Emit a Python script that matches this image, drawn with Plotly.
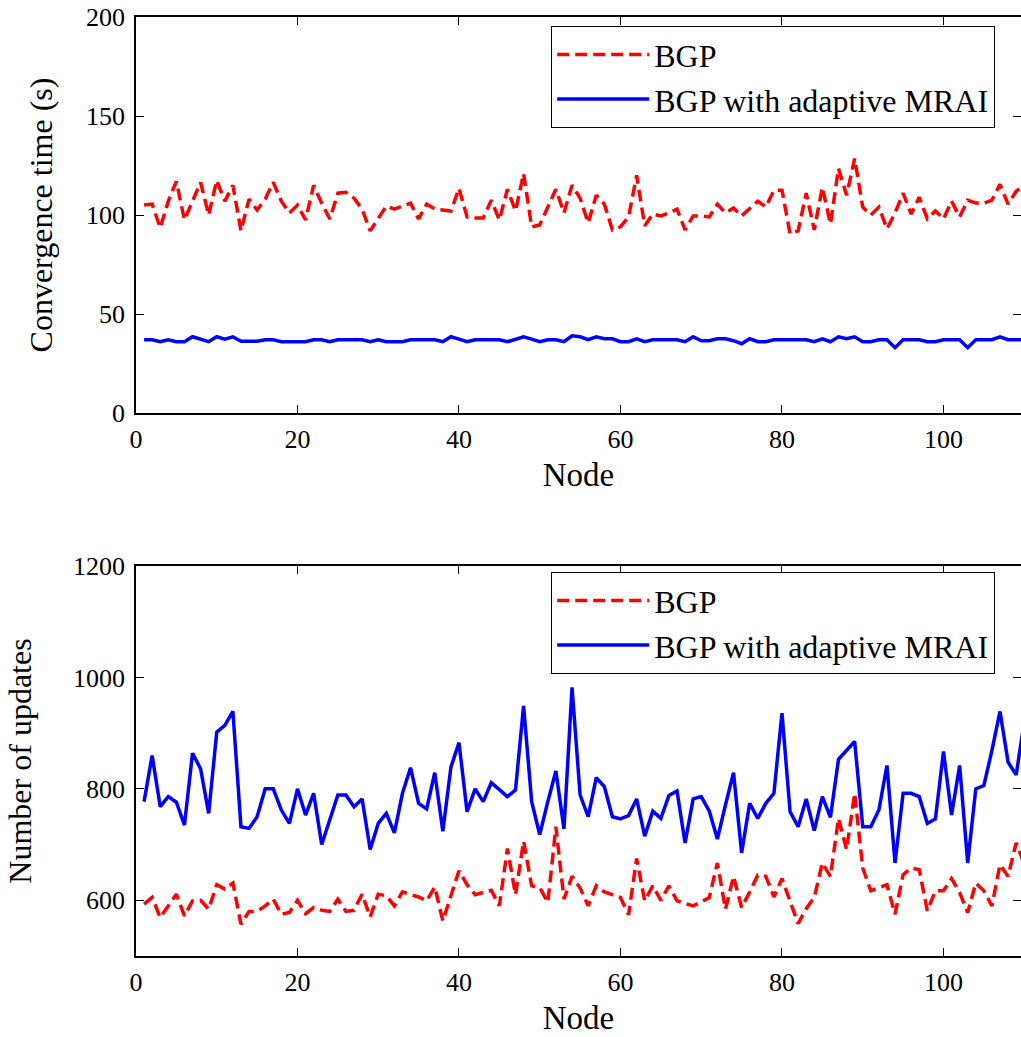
import plotly.graph_objects as go

nodes = list(range(1, 111))

conv_bgp = [105, 105.5, 93.5, 107, 117, 97.5, 107, 116.5, 100, 117.5,
            107, 115, 92, 108, 102.5, 108, 116.5, 107, 101, 105,
            97.5, 115, 106, 98, 111, 111.5, 108.5, 103, 92, 98,
            104.5, 103, 104.5, 106, 98, 105.5, 103, 102.5, 102, 113.5,
            99, 98.5, 98.5, 107.5, 97.5, 113, 102, 121, 94, 95,
            104, 113, 101, 115, 108.5, 96, 110, 105.5, 92.5, 94,
            99, 120, 94.5, 100.5, 99.5, 101, 103, 92.5, 99.5, 99.5,
            99, 105.5, 101, 103.5, 99.5, 103, 107, 104, 112.5, 112.5,
            90.5, 92, 111, 92.5, 114, 95.5, 123.5, 110, 128.5, 104,
            100, 104, 93, 101, 111, 100.5, 109, 98, 102, 98,
            107, 99, 107.5, 106, 106, 107.5, 115.5, 105.5, 112, 115]

conv_adaptive = [37, 37, 36, 37, 36, 36, 38.5, 37.3, 36, 38.5,
                 37.3, 38.5, 36.2, 36.2, 36.2, 37, 37, 36, 36, 36,
                 36, 37, 37, 36, 37, 37, 37, 37, 36, 37,
                 36, 36, 36, 37, 37, 37, 37, 36, 38.5, 37.3,
                 36, 37, 37, 37, 37, 36, 37.3, 38.5, 37.3, 36,
                 37, 37, 36, 39, 38.5, 37, 38.5, 37.5, 37.5, 36,
                 36, 37.5, 36, 37, 37, 37, 37, 36, 38.5, 36.5,
                 36.5, 37.5, 37.5, 36.5, 35, 37.5, 36, 36, 37, 37,
                 37, 37, 37, 36, 37.5, 36, 38.5, 37.5, 38.5, 36,
                 36, 37, 37, 33, 37, 37, 37, 36, 36, 37,
                 37, 37, 33, 37, 37, 37, 38.5, 37, 37, 37]

upd_bgp = [593, 605, 569, 590, 611, 572, 599, 600, 584, 628,
           620, 631, 557, 580, 580, 590, 602, 575, 578, 600,
           576, 587, 582, 580, 602, 580, 582, 611, 570, 611,
           608, 590, 615, 610, 606, 599, 624, 563, 610, 653,
           628, 610, 614, 618, 590, 693, 610, 706, 626, 623,
           596, 732, 602, 643, 622, 590, 626, 615, 610, 605,
           574, 675, 599, 626, 600, 626, 599, 595, 590, 597,
           605, 667, 584, 643, 587, 615, 645, 643, 606, 639,
           599, 558, 585, 605, 667, 643, 747, 691, 792, 658,
           617, 623, 628, 575, 646, 658, 655, 581, 617, 617,
           639, 614, 578, 631, 617, 590, 664, 643, 703, 665]

upd_adaptive = [777, 860, 768, 786, 776, 735, 864, 836, 756, 902,
                914, 939, 732, 729, 750, 800, 800, 762, 738, 800,
                753, 792, 700, 745, 789, 789, 768, 782, 691, 738,
                756, 721, 792, 838, 774, 764, 829, 724, 839, 883,
                759, 800, 777, 811, 798, 786, 798, 949, 777, 718,
                777, 832, 728, 982, 789, 750, 820, 804, 750, 746,
                752, 782, 715, 760, 747, 788, 796, 703, 782, 786,
                760, 710, 771, 829, 685, 774, 747, 774, 792, 936,
                759, 732, 782, 725, 786, 749, 853, 869, 885, 732,
                732, 762, 842, 667, 792, 792, 786, 738, 746, 867,
                753, 842, 667, 800, 806, 869, 939, 848, 825, 920]

x_ticks = [0, 20, 40, 60, 80, 100]
conv_ticks = [0, 50, 100, 150, 200]
upd_ticks = [600, 800, 1000, 1200]

FONT = "Liberation Serif, Times New Roman, serif"
RED = "#FF0000"
BLUE = "#0000FF"
TICK_SIZE = 26
TEXT_SIZE = 33

fig = go.Figure()

fig.add_trace(go.Scatter(x=nodes, y=conv_bgp, mode="lines", name="BGP",
                         line=dict(color=RED, width=3.5, dash="12px,6px"),
                         xaxis="x", yaxis="y", legend="legend"))
fig.add_trace(go.Scatter(x=nodes, y=conv_adaptive, mode="lines",
                         name="BGP with adaptive MRAI",
                         line=dict(color=BLUE, width=3.5),
                         xaxis="x", yaxis="y", legend="legend"))
fig.add_trace(go.Scatter(x=nodes, y=upd_bgp, mode="lines", name="BGP",
                         line=dict(color=RED, width=3.5, dash="12px,6px"),
                         xaxis="x2", yaxis="y2", legend="legend2"))
fig.add_trace(go.Scatter(x=nodes, y=upd_adaptive, mode="lines",
                         name="BGP with adaptive MRAI",
                         line=dict(color=BLUE, width=3.5),
                         xaxis="x2", yaxis="y2", legend="legend2"))

H = 1037
W = 1021
L, R = 136, 0
T, B = 17, 81
PH = H - T - B
PW = W - L - R


def py(pix):
    return (H - B - pix) / PH


def px(pix):
    return (pix - L) / PW


axis_common = dict(showline=True, linecolor="black", linewidth=1.5,
                   mirror="ticks", ticks="inside", ticklen=8, tickwidth=1.2,
                   tickcolor="black", showgrid=False, zeroline=False,
                   automargin=False,
                   tickfont=dict(family=FONT, size=TICK_SIZE, color="black"))

title_font = dict(family=FONT, size=TEXT_SIZE, color="black")
legend_common = dict(xanchor="left", yanchor="top",
                     bgcolor="white", bordercolor="black", borderwidth=1.2,
                     font=dict(family=FONT, size=32, color="black"),
                     itemwidth=92, tracegroupgap=0)

fig.update_layout(
    width=W, height=H,
    margin=dict(l=L, r=R, t=T, b=B, autoexpand=False),
    paper_bgcolor="white", plot_bgcolor="white",
    font=dict(family=FONT, size=TICK_SIZE, color="black"),
    xaxis=dict(axis_common, domain=[0, 1], range=[0, 109.6], anchor="y",
               tickvals=x_ticks, ticklabelstandoff=2,
               title=dict(text="Node", standoff=10, font=title_font)),
    yaxis=dict(axis_common, domain=[py(413), 1], range=[0, 200], anchor="x",
               tickvals=conv_ticks, ticklabelstandoff=4,
               title=dict(text="Convergence time (s)", standoff=24,
                          font=dict(family=FONT, size=32, color="black"))),
    xaxis2=dict(axis_common, domain=[0, 1], range=[0, 109.6], anchor="y2",
                tickvals=x_ticks, ticklabelstandoff=2,
                title=dict(text="Node", standoff=10, font=title_font)),
    yaxis2=dict(axis_common, domain=[0, py(566)], range=[500, 1200], anchor="x2",
                tickvals=upd_ticks, ticklabelstandoff=4,
                title=dict(text="Number of updates", standoff=32,
                           font=dict(family=FONT, size=32, color="black"))),
    legend=dict(legend_common, x=px(551), y=py(26)),
    legend2=dict(legend_common, x=px(551), y=py(572)),
)

fig.write_html(
    "out.html",
    config={"displayModeBar": False},
    post_script="document.body.style.margin='0';"
                "document.body.style.overflow='hidden';",
)
